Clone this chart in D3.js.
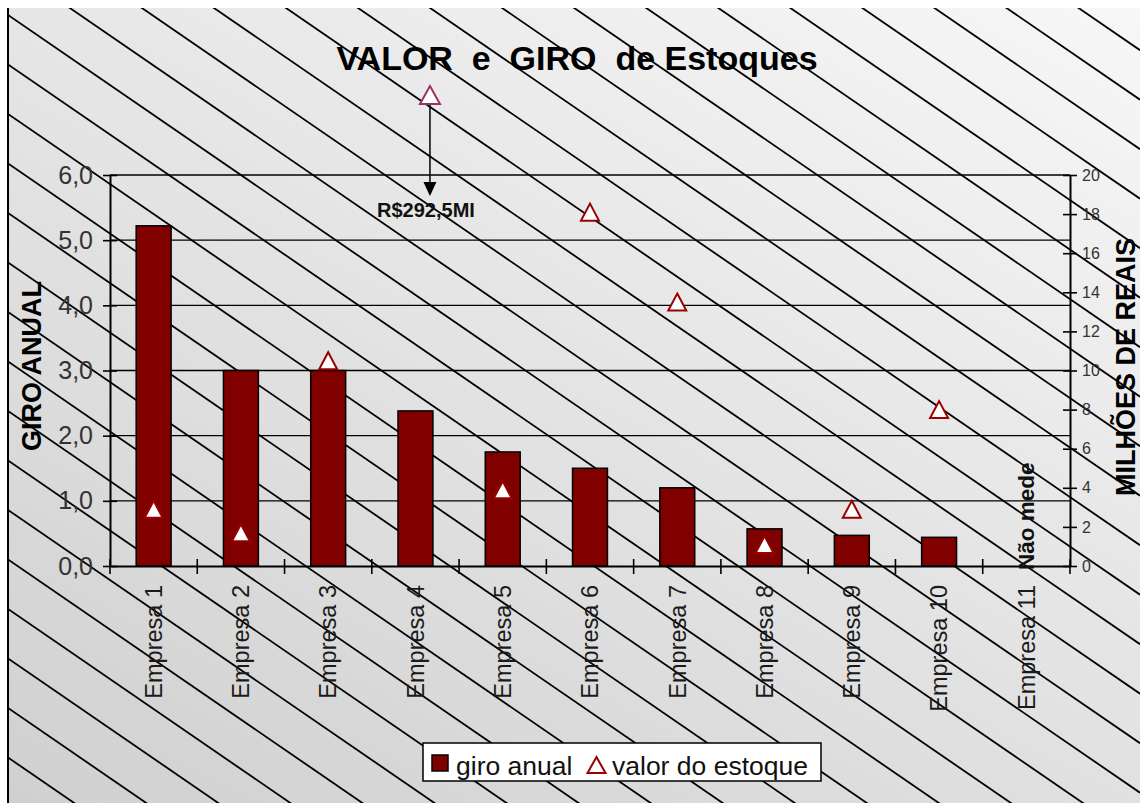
<!DOCTYPE html>
<html>
<head>
<meta charset="utf-8">
<script src="https://cdn.jsdelivr.net/npm/d3@7"></script>
<style>
  html, body { margin:0; padding:0; background:#fff; }
  svg { display:block; font-family: Arial, "Liberation Sans", sans-serif; }
</style>
</head>
<body>
<div id="chart"></div>
<script>
// ====== données
const EMPRESAS = ["Empresa 1","Empresa 2","Empresa 3","Empresa 4","Empresa 5","Empresa 6",
                  "Empresa 7","Empresa 8","Empresa 9","Empresa 10","Empresa 11"];
const GIRO  = [5.22, 3.0, 3.0, 2.38, 1.75, 1.5, 1.2, 0.57, 0.47, 0.44, null];   // giro anual
const VALOR = [2.9, 1.7, 10.5, 292.5, 3.9, 18.1, 13.5, 1.1, 2.9, 8.0, null];  // milhões de reais
const TICKS_L = [0, 1, 2, 3, 4, 5, 6];
const TICKS_R = [0, 2, 4, 6, 8, 10, 12, 14, 16, 18, 20];
const OFF_LABEL = "R$292,5MI";
const NO_DATA = "Não mede";

// ====== dimensions
const W = 1140, H = 803;
const P = {l:110, r:1070, t:175, b:566};
const RED = "#800000";

const svg = d3.select("#chart").append("svg")
  .attr("width", W).attr("height", H);

// ====== fond dégradé + hachures
const defs = svg.append("defs");
const grad = defs.append("linearGradient").attr("id","bg")
  .attr("gradientUnits","userSpaceOnUse")
  .attr("x1",287).attr("y1",949).attr("x2",861).attr("y2",-139);
grad.append("stop").attr("offset",0).attr("stop-color","#d0d0d0");
grad.append("stop").attr("offset",1).attr("stop-color","#f7f7f7");
defs.append("clipPath").attr("id","clipBg")
  .append("rect").attr("x",8).attr("y",8).attr("width",W-8).attr("height",H-8);

svg.append("rect").attr("x",8).attr("y",8).attr("width",W-8).attr("height",H-8)
  .attr("fill","url(#bg)");

const hatch = svg.append("g").attr("clip-path","url(#clipBg)");
d3.range(-17, 18).forEach(k => {
  hatch.append("line")
    .attr("x1", 8).attr("y1", 15 + 49.5*k)
    .attr("x2", W).attr("y2", 15 + 0.687*(W-8) + 49.5*k)
    .attr("stroke","#000").attr("stroke-width",1.8);
});
svg.append("line").attr("x1",8).attr("x2",8).attr("y1",8).attr("y2",H)
  .attr("stroke","#000").attr("stroke-width",2);

// ====== échelles
const x  = d3.scaleBand().domain(EMPRESAS).range([P.l, P.r]).padding(0);
const yL = d3.scaleLinear().domain([0, 6]).range([P.b, P.t]);
const yR = d3.scaleLinear().domain([0, 20]).range([P.b, P.t]);
const bw = x.bandwidth() * 0.4;

// ====== grille
svg.append("g").selectAll("line").data(TICKS_L.filter(d => d > 0)).join("line")
  .attr("x1", P.l).attr("x2", P.r)
  .attr("y1", d => yL(d)).attr("y2", d => yL(d))
  .attr("stroke","#000").attr("stroke-width",1.4);

// ====== barres
const rows = EMPRESAS.map((e,i) => ({e, giro: GIRO[i], valor: VALOR[i]}));
svg.append("g").selectAll("rect").data(rows.filter(d => d.giro != null)).join("rect")
  .attr("x", d => x(d.e) + (x.bandwidth() - bw)/2)
  .attr("y", d => yL(d.giro))
  .attr("width", bw)
  .attr("height", d => yL(0) - yL(d.giro))
  .attr("fill", RED).attr("stroke","#000").attr("stroke-width",1.5);

// ====== triangles
const tri = (cx, cy, w, h) =>
  `M${cx},${cy - h/2}L${cx + w/2},${cy + h/2}L${cx - w/2},${cy + h/2}Z`;
const cx = e => x(e) + x.bandwidth()/2;

const inRange = rows.filter(d => d.valor != null && d.valor <= yR.domain()[1]);
svg.append("g").selectAll("path").data(inRange).join("path")
  .attr("d", d => tri(cx(d.e), yR(d.valor), 18, 17))
  .attr("fill","#fff").attr("stroke","#990000").attr("stroke-width",2)
  .attr("stroke-linejoin","miter");

// valeur hors échelle -> annotation au-dessus du graphique
const off = rows.filter(d => d.valor != null && d.valor > yR.domain()[1]);
off.forEach(d => {
  const ax = cx(d.e) + 14.5, ay = yR(20) - 80;
  svg.append("path").attr("d", tri(ax, ay, 20, 18))
    .attr("fill","#fff").attr("stroke","#993366").attr("stroke-width",2);
  svg.append("line").attr("x1",ax).attr("x2",ax).attr("y1",ay + 10).attr("y2",ay + 90)
    .attr("stroke","#000").attr("stroke-width",1.5);
  svg.append("path")
    .attr("d", `M${ax - 6.5},${ay + 87}L${ax + 6.5},${ay + 87}L${ax},${ay + 101}Z`)
    .attr("fill","#000");
  svg.append("text").attr("x", ax - 4).attr("y", ay + 122)
    .attr("text-anchor","middle").attr("font-size",20).attr("font-weight","bold")
    .attr("fill","#111").text(OFF_LABEL);
});

// ====== axes
const axL = svg.append("g").attr("transform",`translate(${P.l},0)`)
  .call(d3.axisLeft(yL).tickValues(TICKS_L).tickSizeOuter(0)
    .tickFormat(d => d3.format(".1f")(d).replace(".", ",")));
axL.select(".domain").attr("stroke","#000").attr("stroke-width",2);
axL.selectAll(".tick line").attr("x1",-7).attr("x2",7).attr("stroke","#000").attr("stroke-width",1.6);
axL.selectAll(".tick text").attr("x",-17).attr("font-size",25).attr("fill","#333")
  .attr("font-family","Arial, 'Liberation Sans', sans-serif");

const axR = svg.append("g").attr("transform",`translate(${P.r},0)`)
  .call(d3.axisRight(yR).tickValues(TICKS_R).tickSizeOuter(0));
axR.select(".domain").attr("stroke","#000").attr("stroke-width",2);
axR.selectAll(".tick line").attr("x1",-7).attr("x2",7).attr("stroke","#000").attr("stroke-width",1.6);
axR.selectAll(".tick text").attr("x",12).attr("font-size",16).attr("fill","#333")
  .attr("font-family","Arial, 'Liberation Sans', sans-serif");

const axB = svg.append("g").attr("transform",`translate(0,${P.b})`)
  .call(d3.axisBottom(x).tickSize(0).tickSizeOuter(0));
axB.select(".domain").attr("stroke","#000").attr("stroke-width",2);
axB.selectAll(".tick text")
  .attr("font-size",23.5).attr("fill","#1a1a1a")
  .attr("font-family","Arial, 'Liberation Sans', sans-serif")
  .attr("text-anchor","end")
  .attr("transform","rotate(-90)")
  .attr("x",-19).attr("y",0).attr("dy","0.35em");
// traits de catégorie aux frontières
const bounds = EMPRESAS.map(e => x(e)).concat([P.r]);
svg.append("g").selectAll("line").data(bounds).join("line")
  .attr("x1", d => d).attr("x2", d => d)
  .attr("y1", P.b - 7).attr("y2", P.b + 8)
  .attr("stroke","#000").attr("stroke-width",1.6);

// ====== "Não mede" pour les entreprises sans donnée
rows.filter(d => d.giro == null).forEach(d => {
  svg.append("text")
    .attr("transform",`translate(${cx(d.e) + 8},${P.b + 4}) rotate(-90)`)
    .attr("font-size",22.5).attr("font-weight","bold").attr("fill","#111")
    .text(NO_DATA);
});

// ====== titres
svg.append("text").attr("x",577).attr("y",70).attr("text-anchor","middle")
  .attr("font-size",34).attr("font-weight","bold").attr("fill","#000")
  .attr("xml:space","preserve").style("white-space","pre")
  .text("VALOR  e  GIRO  de Estoques");

svg.append("text").attr("transform","translate(41,366) rotate(-90)")
  .attr("text-anchor","middle").attr("font-size",27).attr("font-weight","bold")
  .attr("fill","#000").text("GIRO ANUAL");

svg.append("text").attr("transform","translate(1135,367) rotate(-90)")
  .attr("text-anchor","middle").attr("font-size",27).attr("font-weight","bold")
  .attr("fill","#000").text("MILHÕES DE REAIS");

// ====== légende
const lg = svg.append("g");
lg.append("rect").attr("x",423).attr("y",743).attr("width",398).attr("height",38)
  .attr("fill","#fff").attr("stroke","#000").attr("stroke-width",1.5);
lg.append("rect").attr("x",432).attr("y",755).attr("width",16).attr("height",16)
  .attr("fill",RED).attr("stroke","#000").attr("stroke-width",1.5);
lg.append("text").attr("x",456).attr("y",775).attr("font-size",26.5).attr("fill","#111")
  .text("giro anual");
lg.append("path").attr("d", tri(596.5, 765, 18, 16))
  .attr("fill","#fff").attr("stroke","#990000").attr("stroke-width",2);
lg.append("text").attr("x",612).attr("y",775).attr("font-size",26.5).attr("fill","#111")
  .text("valor do estoque");
</script>
</body>
</html>
